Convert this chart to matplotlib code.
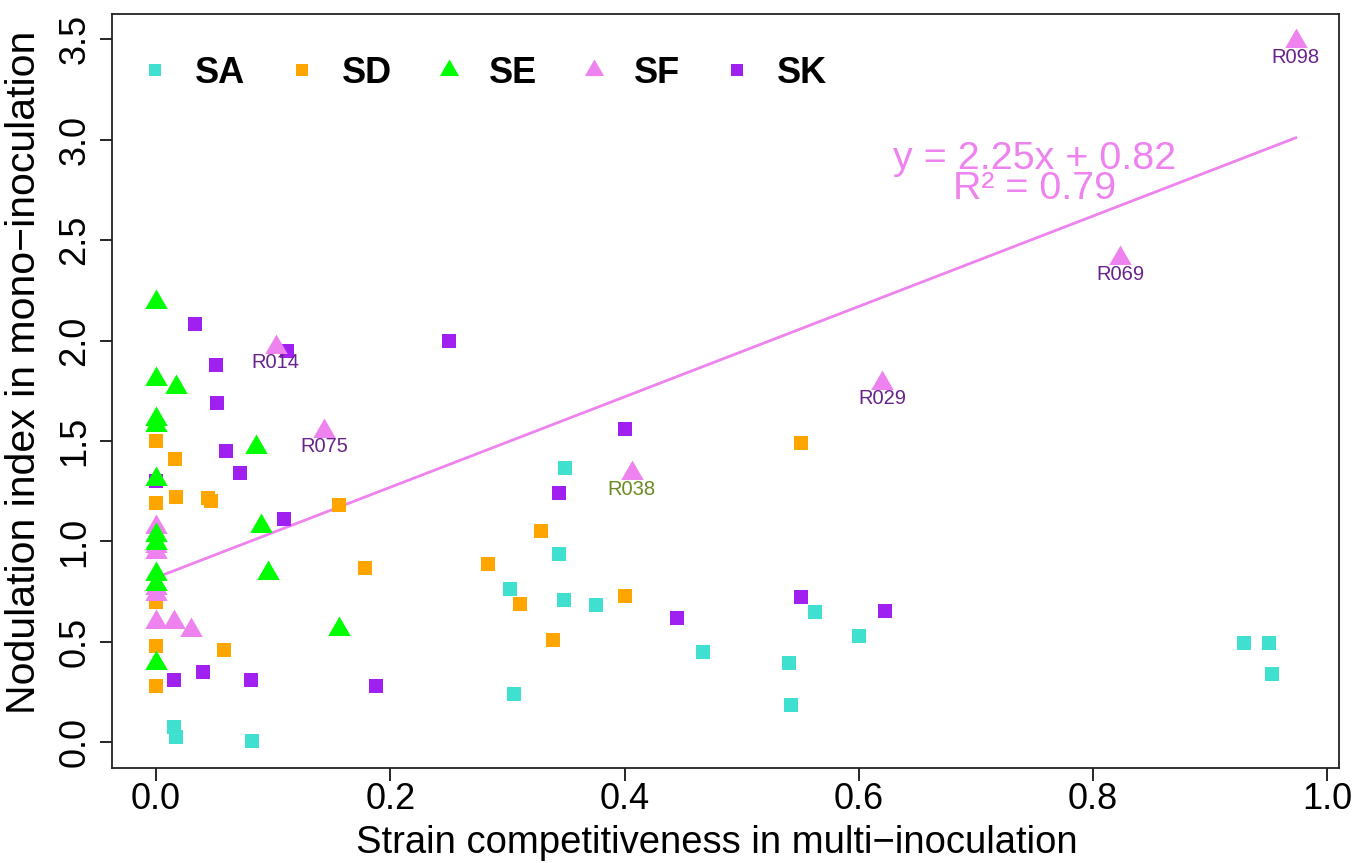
import matplotlib
matplotlib.use('Agg')
import matplotlib.pyplot as plt
from matplotlib.lines import Line2D

plt.rcParams['font.family'] = ['Liberation Sans', 'DejaVu Sans']

# strain groups: x = competitiveness, y = nodulation index
sa_x = [0.015, 0.017, 0.082, 0.302, 0.306, 0.344, 0.348, 0.349, 0.376, 0.467, 0.540, 0.542, 0.5625, 0.600, 0.929, 0.950, 0.953]
sa_y = [0.078, 0.028, 0.008, 0.766, 0.240, 0.940, 0.710, 1.364, 0.682, 0.451, 0.393, 0.184, 0.650, 0.529, 0.496, 0.496, 0.338]

sd_x = [0, 0, 0, 0, 0, 0.016, 0.017, 0.044, 0.047, 0.058, 0.1565, 0.178, 0.283, 0.311, 0.3286, 0.339, 0.400, 0.551]
sd_y = [1.50, 1.19, 0.70, 0.48, 0.28, 1.41, 1.22, 1.215, 1.20, 0.46, 1.18, 0.87, 0.889, 0.687, 1.052, 0.508, 0.73, 1.49]

se_x = [0, 0, 0.0168, 0, 0, 0, 0, 0, 0, 0, 0, 0.0854, 0.0896, 0.0953, 0.1565]
se_y = [2.19, 1.81, 1.77, 1.61, 1.58, 1.31, 1.03, 0.99, 0.84, 0.79, 0.395, 1.47, 1.077, 0.843, 0.566]

sf_x = [0, 0, 0, 0, 0, 0.0154, 0.0296, 0, 0.102, 0.1434, 0.406, 0.620, 0.823, 0.973]
sf_y = [1.07, 0.98, 0.95, 0.77, 0.74, 0.60, 0.56, 0.60, 1.97, 1.55, 1.34, 1.79, 2.41, 3.49]
sf_names = ['', '', '', '', '', '', '', '', 'R014', 'R075', 'R038', 'R029', 'R069', 'R098']
sf_label_colors = ['', '', '', '', '', '', '', '', '#68228B', '#68228B', '#698B22', '#68228B', '#68228B', '#68228B']

sk_x = [0.033, 0.051, 0.052, 0.060, 0.072, 0.0, 0.1115, 0.109, 0.015, 0.040, 0.081, 0.188, 0.2504, 0.400, 0.344, 0.445, 0.551, 0.622]
sk_y = [2.08, 1.88, 1.69, 1.45, 1.34, 1.30, 1.95, 1.11, 0.31, 0.35, 0.31, 0.28, 2.00, 1.558, 1.24, 0.617, 0.725, 0.653]

fit_slope = 2.25
fit_intercept = 0.82
fit_r2 = 0.79

c_sa = '#40E0D0'
c_sd = '#FFA500'
c_se = '#00FF00'
c_sf = '#EE82EE'
c_sk = '#A020F0'

# R style filled triangle (pch 17), centred on its centroid
tri = [(0, 1.555), (-1.347, -0.778), (1.347, -0.778), (0, 1.555)]

fig = plt.figure(figsize=(13.59, 8.63), dpi=100)
ax = fig.add_axes([0.0824, 0.1097, 0.9026, 0.874])

ax.plot(sa_x, sa_y, 's', color=c_sa, ms=10.5, mew=0, zorder=3)
ax.plot(sd_x, sd_y, 's', color=c_sd, ms=10.5, mew=0, zorder=3)
ax.plot(sk_x, sk_y, 's', color=c_sk, ms=10.5, mew=0, zorder=3)
ax.plot(sf_x, sf_y, marker=tri, ls='none', color=c_sf, ms=18.7, mew=0, zorder=3)
ax.plot(se_x, se_y, marker=tri, ls='none', color=c_se, ms=18.7, mew=0, zorder=3)

# regression line for SF over its x range
x0, x1 = min(sf_x), max(sf_x)
ax.plot([x0, x1], [fit_intercept + fit_slope * x0, fit_intercept + fit_slope * x1],
        color=c_sf, lw=2, zorder=2)
ax.text(0.75, 2.83, 'y = %.2fx + %.2f\nR² = %.2f' % (fit_slope, fit_intercept, fit_r2),
        color=c_sf, fontsize=28.4, ha='center', va='center', linespacing=0.78)

for x, y, name, col in zip(sf_x, sf_y, sf_names, sf_label_colors):
    if name:
        ax.annotate(name, (x, y), xytext=(0, -11.5), textcoords='offset points',
                    ha='center', va='center', fontsize=14.5, color=col, zorder=4)

ax.set_xlim(-0.0376, 1.0096)
ax.set_ylim(-0.129, 3.625)
ax.set_xticks([0.0, 0.2, 0.4, 0.6, 0.8, 1.0])
ax.set_yticks([0.0, 0.5, 1.0, 1.5, 2.0, 2.5, 3.0, 3.5])
ax.set_xticklabels(['0.0', '0.2', '0.4', '0.6', '0.8', '1.0'])
ax.set_yticklabels(['0.0', '0.5', '1.0', '1.5', '2.0', '2.5', '3.0', '3.5'])
ax.tick_params(direction='out', length=9, width=1.2, labelsize=26, colors='black')
ax.tick_params(axis='x', pad=1)
ax.tick_params(axis='y', pad=5, labelrotation=90)
for lab in ax.get_yticklabels():
    lab.set_va('center')
for s in ax.spines.values():
    s.set_linewidth(1.3)
    s.set_color('#222222')

ax.set_xlabel('Strain competitiveness in multi−inoculation', fontsize=27.5)
ax.set_ylabel('Nodulation index in mono−inoculation', fontsize=29.5)
ax.xaxis.set_label_coords(0.493, -0.075)
ax.yaxis.set_label_coords(-0.056, 0.525)

handles = [
    Line2D([], [], marker='s', ls='none', color=c_sa, ms=8, mew=0),
    Line2D([], [], marker='s', ls='none', color=c_sd, ms=8, mew=0),
    Line2D([], [], marker=tri, ls='none', color=c_se, ms=16, mew=0),
    Line2D([], [], marker=tri, ls='none', color=c_sf, ms=16, mew=0),
    Line2D([], [], marker='s', ls='none', color=c_sk, ms=8, mew=0),
]
ax.legend(handles, ['SA', 'SD', 'SE', 'SF', 'SK'], ncol=5, frameon=False,
          loc='upper left', bbox_to_anchor=(0.0204, 0.945), borderpad=0, borderaxespad=0,
          handlelength=1.0, handletextpad=0.6, columnspacing=1.08,
          prop={'size': 26, 'weight': 'bold'})

fig.savefig('out.png', dpi=100)
